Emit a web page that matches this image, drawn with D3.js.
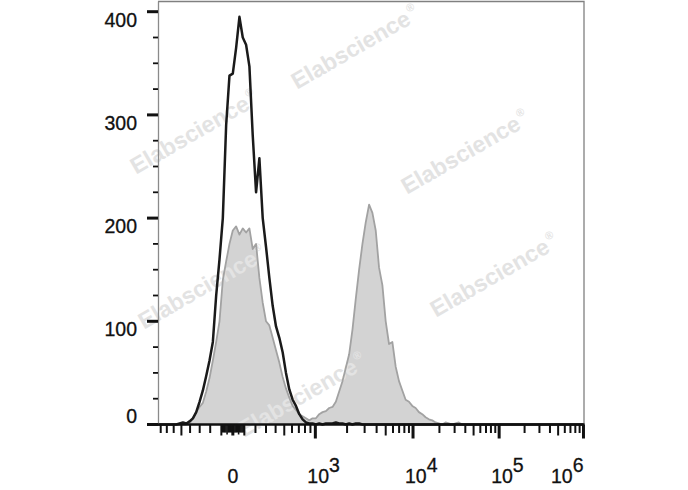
<!DOCTYPE html>
<html><head><meta charset="utf-8">
<script src="https://cdn.jsdelivr.net/npm/d3@7"></script>
<style>body{margin:0;background:#fff}svg{display:block}</style>
</head><body>
<svg id="c" width="688" height="490"></svg>
<script>
// ---- data (histogram counts per logicle display channel, 128 channels) ----
const CHANNELS = 128;
const controlCounts = [
0,0,0,0,0,0,1,2,1,3,
6,12,22,33,47,62,80,125,160,200,
290,338,340,365,395,375,368,347,280,225,
258,200,172,142,115,95,84,70,50,34,
24,18,10,5,2,1,1,0,1,0,
1,1,1,2,1,1,0,1,0,1,
1,0,0,0,0,0,0,0,0,0,
0,0,0,0,0,0,0,0,0,0,
0,0,0,0,0,0,0,0,0,0,
0,0,0,0,0,0,0,0,0,0,
0,0,0,0,0,0,0,0,0,0,
0,0,0,0,0,0,0,0,0,0,
0,0,0,0,0,0,0,0];
const sampleCounts = [
0,0,0,0,0,0,0,0,0,1,
6,12,17,21,32,45,62,80,100,140,
158,175,188,192,184,190,186,190,170,175,
142,118,100,96,84,72,60,46,35,26,
18,14,10,8,6,4,6,6,10,12,
13,16,17,22,32,42,55,68,92,122,
150,175,196,213,205,188,152,135,100,78,
80,56,42,33,24,22,18,16,12,10,
7,5,4,2,1,0,2,1,0,1,
2,0,0,0,0,0,0,0,0,0,
0,0,0,0,0,0,0,0,0,0,
0,0,0,0,0,0,0,0,0,0,
0,0,0,0,0,0,0,0];
const yTickValues = [0,100,200,300,400];
const yMinorValues = [25,50,75,125,150,175,225,250,275,325,350,375];
const xZeroLabel = "0";
const xDecadeExponents = [3,4,5,6];
const watermarkText = "Elabscience";

// ---- logicle transform (T = 10^6, M = 5.06 decades, W = 0.89) ----
const T = 1e6, M = 5.06, W = 0.89;
function solveP(w){let lo=1.0001,hi=100;for(let k=0;k<200;k++){const m=(lo+hi)/2;const f=2*m*Math.log10(m)/(m+1);if(f>w)hi=m;else lo=m;}return (lo+hi)/2;}
const P = solveP(W);
function logicleInv(yv){
  if (yv < W) return -logicleInv(2*W - yv);
  const z = yv - W;
  return T*Math.pow(10,-(M-W))*(Math.pow(10,z) - P*P*Math.pow(10,-z/P) + P*P - 1);
}
function logicle(v){let lo=-3,hi=M+2;for(let k=0;k<100;k++){const m=(lo+hi)/2;if(logicleInv(m)<v)lo=m;else hi=m;}return (lo+hi)/2;}

const L = 158, R = 583.5, B = 424.5, TOP = 1.5;
const disp = d3.scaleLinear().domain([0, M]).range([L, R]);
const chan = d3.scaleLinear().domain([0, CHANNELS]).range([0, M]);
const x = v => disp(logicle(v));
const y = d3.scaleLinear().domain([0, 400]).range([B, 11.7]);

const svg = d3.select("#c");
const FONT = "'Liberation Sans', Arial, Helvetica, sans-serif";

// ---- histograms ----
const pts = arr => arr.map((c,i)=>[disp(chan(i+0.5)), y(c)]);
const samplePts = [[disp(chan(0)), y(0)], ...pts(sampleCounts), [disp(chan(CHANNELS)), y(0)]];
const controlPts = [[disp(chan(0)), y(0)], ...pts(controlCounts), [disp(chan(CHANNELS)), y(0)]];

svg.append("path")
  .attr("d", d3.area().x(d=>d[0]).y0(B).y1(d=>d[1])(samplePts))
  .attr("fill", "#d3d3d3");

// watermarks
const wm = [[355,47],[194,132],[465,152],[494,275],[202,287],[302,395]];
wm.forEach(([cx,cy])=>{
  const t = svg.append("text")
    .attr("transform", `translate(${cx},${cy}) rotate(-30)`)
    .attr("text-anchor","middle")
    .attr("font-family", FONT).attr("font-weight","bold").attr("font-size", 23)
    .attr("fill", "#e3e3e3").attr("dy","0.35em")
    .text(watermarkText);
  t.append("tspan").attr("font-size", 11).attr("dy", -11).attr("dx", 2).text("®");
});

svg.append("path")
  .attr("d", d3.line()(samplePts))
  .attr("fill","none").attr("stroke","#a2a2a2").attr("stroke-width",1.8).attr("stroke-linejoin","round");

svg.append("path")
  .attr("d", d3.line()(controlPts))
  .attr("fill","none").attr("stroke","#1a1a1a").attr("stroke-width",2.5).attr("stroke-linejoin","round");

// ---- frame ----
svg.append("path").attr("d", `M${L},${TOP}H${R+0.5}V${B}`).attr("fill","none").attr("stroke","#808080").attr("stroke-width",1.3);
svg.append("line").attr("x1",L+0.5).attr("x2",L+0.5).attr("y1",TOP).attr("y2",B).attr("stroke","#8a8a8a").attr("stroke-width",1.3);
svg.append("line").attr("x1",147).attr("x2",R+1).attr("y1",B).attr("y2",B).attr("stroke","#111").attr("stroke-width",2.4);

// ---- y axis ticks ----
svg.selectAll(".ymaj").data(yTickValues).enter().append("line")
  .attr("x1",147).attr("x2",L).attr("y1",d=>y(d)).attr("y2",d=>y(d))
  .attr("stroke","#111").attr("stroke-width",3);
svg.selectAll(".ymin").data(yMinorValues).enter().append("line")
  .attr("x1",153).attr("x2",L).attr("y1",d=>y(d)).attr("y2",d=>y(d))
  .attr("stroke","#111").attr("stroke-width",1.8);
svg.selectAll(".ylab").data(yTickValues).enter().append("text")
  .attr("x",137).attr("y",d=> d===0 ? y(d)-1.5 : y(d)+15)
  .attr("text-anchor","end").attr("font-family",FONT).attr("font-size",19.5).attr("fill","#111")
  .attr("stroke","#111").attr("stroke-width",0.3)
  .text(d=>String(d));

// ---- x axis ticks ----
const xTicks = [];
const inDom = v => { const dv = logicle(v); return dv >= -0.001 && dv <= M + 0.001; };
[0,1e3,1e4,1e5,1e6].forEach(v=>xTicks.push({v, len: v===0?9:12, w:3}));
for (let k=-90;k<=90;k+=10) if (k!==0) xTicks.push({v:k, len: Math.abs(k)===50?8:6, w:1.6});
[-100,100].forEach(v=>xTicks.push({v, len:9, w:2}));
for (let k=2;k<=9;k++){
  const len = k===5?9:6.5;
  xTicks.push({v:-k*100, len, w:2});
  xTicks.push({v:k*100, len, w:2});
  [1e3,1e4,1e5].forEach(d=>xTicks.push({v:k*d, len, w:2}));
}
svg.selectAll(".xt").data(xTicks.filter(t=>inDom(t.v))).enter().append("line")
  .attr("x1",d=>x(d.v)).attr("x2",d=>x(d.v)).attr("y1",B).attr("y2",d=>B+2+d.len)
  .attr("stroke","#111").attr("stroke-width",d=>d.w);

// ---- x labels ----
svg.append("text").attr("x",x(0)).attr("y",482.5).attr("text-anchor","middle")
  .attr("font-family",FONT).attr("font-size",19.5).attr("fill","#111").attr("stroke","#111").attr("stroke-width",0.3).text(xZeroLabel);
xDecadeExponents.forEach(e=>{
  const tx = x(Math.pow(10,e));
  const lab = svg.append("text").attr("font-family",FONT).attr("font-size",19.5).attr("fill","#111")
    .attr("stroke","#111").attr("stroke-width",0.3).attr("y",482.5);
  lab.append("tspan").text("10");
  lab.append("tspan").attr("dy",-11).text(String(e));
  const wdt = lab.node().getComputedTextLength();
  lab.attr("x", Math.min(tx - 8, R - wdt));
});
</script>
</body></html>
